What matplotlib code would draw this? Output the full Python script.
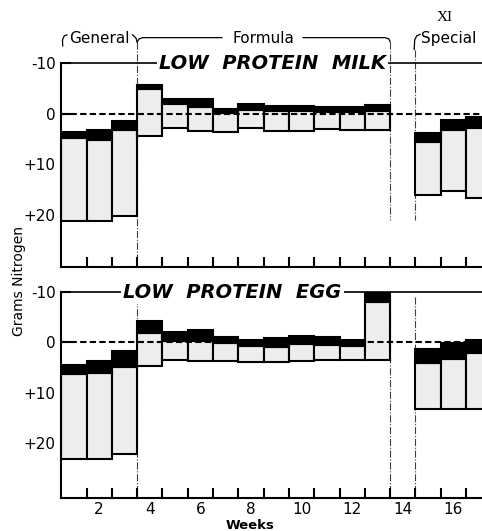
import numpy as np
import matplotlib.pyplot as plt

# weekly nitrogen balance, grams (intake plotted downward, excretion upward)
weeks = [1, 2, 3, 4, 5, 6, 7, 8, 9, 10, 11, 12, 13, 15, 16, 17]

milk_intake = [21.1, 21.1, 20.2, 4.3, 2.8, 3.5, 3.6, 2.8, 3.4, 3.4, 3.0, 3.2, 3.2, 16.0, 15.2, 16.7]
milk_urine = [16.3, 16.0, 17.0, 9.2, 4.7, 4.9, 3.7, 3.5, 3.9, 3.9, 3.4, 3.6, 3.7, 10.5, 12.0, 13.9]
milk_fecal = [1.2, 1.9, 1.8, 0.8, 1.1, 1.6, 0.9, 1.2, 1.1, 1.1, 0.9, 0.9, 1.3, 1.7, 1.9, 2.1]

egg_intake = [23.1, 23.1, 22.1, 4.6, 3.5, 3.7, 3.7, 3.8, 3.8, 3.7, 3.5, 3.5, 3.5, 13.2, 13.2, 13.2]
egg_urine = [16.8, 17.1, 17.3, 6.4, 3.7, 3.9, 3.5, 3.1, 3.0, 3.3, 3.0, 2.8, 11.6, 9.2, 9.9, 11.1]
egg_fecal = [1.8, 2.4, 3.1, 2.5, 1.9, 2.3, 1.3, 1.1, 1.6, 1.7, 1.5, 1.2, 1.8, 2.8, 3.1, 2.5]

y_ticks = [-10, 0, 10, 20]
y_ticklabels = ['-10', '0', '+10', '+20']
x_label_weeks = [2, 4, 6, 8, 10, 12, 14, 16]
phase_breaks = [3.5, 13.5, 14.5]

XMAX = 17.13


def draw_panel(ax, intake, urine, fecal, title, title_x, ybot):
    intake = np.array(intake)
    urine_top = intake - np.array(urine)
    fecal_top = urine_top - np.array(fecal)
    ax.bar(weeks, urine, bottom=urine_top, width=1, color='#ededed',
           edgecolor='black', lw=1.5, zorder=2)
    ax.bar(weeks, fecal, bottom=fecal_top, width=1, color='black',
           edgecolor='black', lw=1.5, zorder=2)
    ax.axhline(0, color='black', ls=(0, (3, 1.6)), lw=1.5, zorder=3)
    ax.plot([0.5, XMAX], [-10, -10], color='black', lw=1.2, clip_on=False, zorder=3)
    ax.text(title_x, -10, title, ha='center', va='center', fontsize=14,
            fontweight='heavy', style='italic', zorder=5,
            bbox=dict(fc='white', ec='none', pad=1.5))

    ax.set_xlim(0.5, XMAX)
    ax.set_ylim(ybot, -10)
    for s in ['top', 'right']:
        ax.spines[s].set_visible(False)
    for s in ['left', 'bottom']:
        ax.spines[s].set_linewidth(1.5)

    ax.set_yticks(y_ticks, y_ticklabels)
    ax.set_xticks(np.arange(1.5, 17, 1))
    ax.set_xticklabels([])
    ax.tick_params(direction='in', length=7, width=1.5, labelsize=11, pad=4)


fig = plt.figure(figsize=(4.82, 5.31), dpi=100)
ax1 = fig.add_axes([0.127, 0.497, 0.873, 0.384])
ax2 = fig.add_axes([0.127, 0.0616, 0.873, 0.3884])

draw_panel(ax1, milk_intake, milk_urine, milk_fecal, 'LOW  PROTEIN  MILK', 8.85, 30.3)
draw_panel(ax2, egg_intake, egg_urine, egg_fecal, 'LOW  PROTEIN  EGG', 7.27, 30.9)

# phase separators
sep = dict(ls='-.', lw=0.8, color='0.25', clip_on=False, zorder=1)
ax1.plot([3.5, 3.5], [-14.2, 30.3], **sep)
ax1.plot([13.5, 13.5], [-14.2, 21], **sep)
ax1.plot([14.5, 14.5], [-12.7, 21], **sep)
for b in phase_breaks:
    ax2.plot([b, b], [-9, 30.9], **sep)

# x labels on bottom panel
ax2.set_xticks(x_label_weeks, minor=True)
ax2.set_xticklabels([str(w) for w in x_label_weeks], minor=True)
ax2.tick_params(axis='x', which='minor', length=0, labelsize=11, pad=3)
ax2.set_xlabel('Weeks', fontsize=9.5, fontweight='bold')
ax2.xaxis.set_label_coords(0.449, -0.1)

fig.text(0.04, 0.471, 'Grams Nitrogen', rotation=90, ha='center', va='center', fontsize=10)

# phase headings with brackets
br = dict(color='black', lw=0.9, clip_on=False)
yb = -15.05
ax1.plot([0.56, 0.55, 0.62, 0.72], [-13.4, -14.6, -15.4, -15.6], **br)
ax1.text(2.0, -14.9, 'General', ha='center', va='center', fontsize=11)
ax1.plot([3.32, 3.45, 3.5], [-15.6, -15.0, -14.2], **br)
ax1.plot([3.5, 3.58, 3.72, 6.85], [-14.2, -14.8, yb, yb], **br)
ax1.text(8.5, -14.9, 'Formula', ha='center', va='center', fontsize=11)
ax1.plot([10.06, 13.3, 13.45, 13.5], [yb, yb, -14.8, -14.2], **br)
ax1.plot([14.45, 14.47, 14.55, 14.68], [-12.7, -14.6, -15.4, -15.7], **br)
ax1.text(14.72, -14.9, 'Special', ha='left', va='center', fontsize=11)
ax1.text(15.65, -19.0, 'XI', ha='center', va='center', fontsize=11, family='Liberation Serif')

fig.savefig('out.png', dpi=100)
